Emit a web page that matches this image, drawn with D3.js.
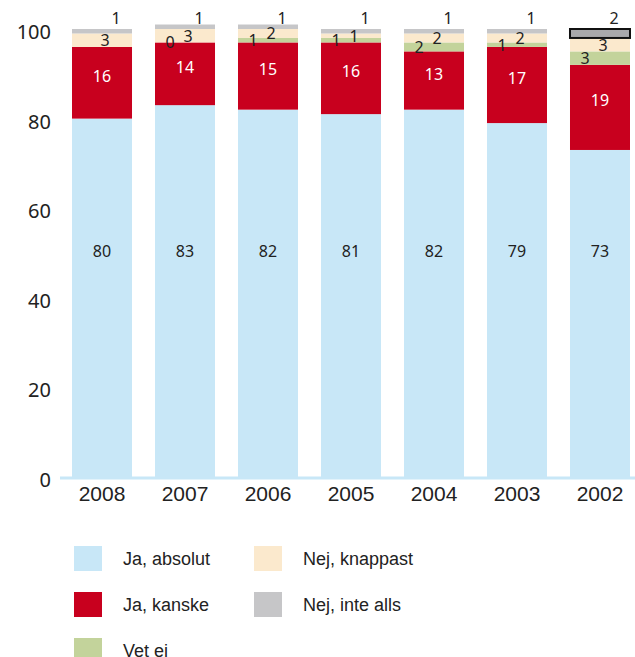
<!DOCTYPE html>
<html><head><meta charset="utf-8">
<script src="https://cdn.jsdelivr.net/npm/d3@7"></script>
<style>body{margin:0;background:#fff}svg{display:block}</style>
</head><body><svg id="c" width="635" height="657"></svg>
<script>
const years = ["2008","2007","2006","2005","2004","2003","2002"];
const seriesNames = ["Ja, absolut","Ja, kanske","Vet ej","Nej, knappast","Nej, inte alls"];
const jaAbsolut  = [80,83,82,81,82,79,73];
const jaKanske   = [16,14,15,16,13,17,19];
const vetEj      = [null,0,1,1,2,1,3];
const nejKnappast= [3,3,2,1,2,2,3];
const nejInteAlls= [1,1,1,1,1,1,2];
const yTicks = [0,20,40,60,80,100];
const colors = ["#c8e7f7","#c8001e","#c3d39b","#fbe9cd","#c6c6c8"];
const highlightYear = "2002";

const values = [jaAbsolut, jaKanske, vetEj, nejKnappast, nejInteAlls];
const rows = years.map((y,i)=>{const o={year:y}; seriesNames.forEach((s,k)=>o[s]=values[k][i]||0); return o;});
const stack = d3.stack().keys(seriesNames)(rows);

const svg = d3.select("#c");
const x = d3.scaleBand().domain(years).range([60,642]).paddingInner(0.277).paddingOuter(0.1446);
const y = d3.scaleLinear().domain([0,100]).range([477,29]);

// bars
stack.forEach((layer,k)=>{
  svg.append("g").selectAll("rect").data(layer).join("rect")
    .attr("x",d=>x(d.data.year))
    .attr("width",x.bandwidth())
    .attr("y",d=>y(d[1]))
    .attr("height",d=>Math.max(0,y(d[0])-y(d[1])))
    .attr("fill",d=>(k===4 && d.data.year===highlightYear)?"#a9a9ab":colors[k])
    .attr("stroke",d=>(k===4 && d.data.year===highlightYear)?"#111":"none")
    .attr("stroke-width",2);
});

// baseline
svg.append("line").attr("x1",60).attr("x2",635).attr("y1",y(0)+1).attr("y2",y(0)+1)
  .attr("stroke","#c8e7f7").attr("stroke-width",3);

// y axis
const yAxis = d3.axisLeft(y).tickValues(yTicks).tickSize(0).tickPadding(0);
const ya = svg.append("g").attr("transform","translate(51,3)").call(yAxis);
ya.select(".domain").remove();
ya.selectAll("text").attr("font-family","'Noto Sans',sans-serif").attr("font-size",20).attr("fill","#222");

// x axis
const xAxis = d3.axisBottom(x).tickSize(0).tickPadding(0);
const xa = svg.append("g").attr("transform","translate(0,486)").call(xAxis);
xa.select(".domain").remove();
xa.selectAll("text").attr("font-family","'Liberation Sans',Arial,sans-serif").attr("font-size",21).attr("fill","#222");

// value labels
const lf = "'Noto Sans',sans-serif";
function lab(layerIdx, fx, fy, fill){
  svg.append("g").selectAll("text").data(stack[layerIdx].filter((d,i)=>values[layerIdx][i]!==null)).join("text")
    .attr("x",d=>x(d.data.year)+x.bandwidth()/2+fx(d))
    .attr("y",fy)
    .attr("text-anchor","middle").attr("dominant-baseline","central")
    .attr("font-family",lf).attr("font-size",16).attr("fill",fill)
    .text(d=>d3.format("d")(d[1]-d[0]));
}
lab(0, d=>0, d=>y(50.5), "#222");
lab(1, d=>0, d=>y((d[0]+d[1])/2)-7, "#fff");
lab(2, d=>-15, d=>y((d[0]+d[1])/2), "#222");
lab(3, d=>3, d=>y((d[0]+d[1])/2), "#222");
lab(4, d=>14, d=>y(102.5), "#222");

// legend
const legPos = [[74,546],[74,592],[74,638],[254,546],[254,592]];
const lg = svg.append("g").selectAll("g").data(seriesNames).join("g")
  .attr("transform",(d,i)=>`translate(${legPos[i][0]},${legPos[i][1]})`);
lg.append("rect").attr("width",28).attr("height",25).attr("fill",(d,i)=>colors[i]);
lg.append("text").attr("x",49).attr("y",12.5).attr("dominant-baseline","central")
  .attr("font-family","'Liberation Sans',Arial,sans-serif").attr("font-size",18).attr("fill","#222")
  .text(d=>d);
</script></body></html>
